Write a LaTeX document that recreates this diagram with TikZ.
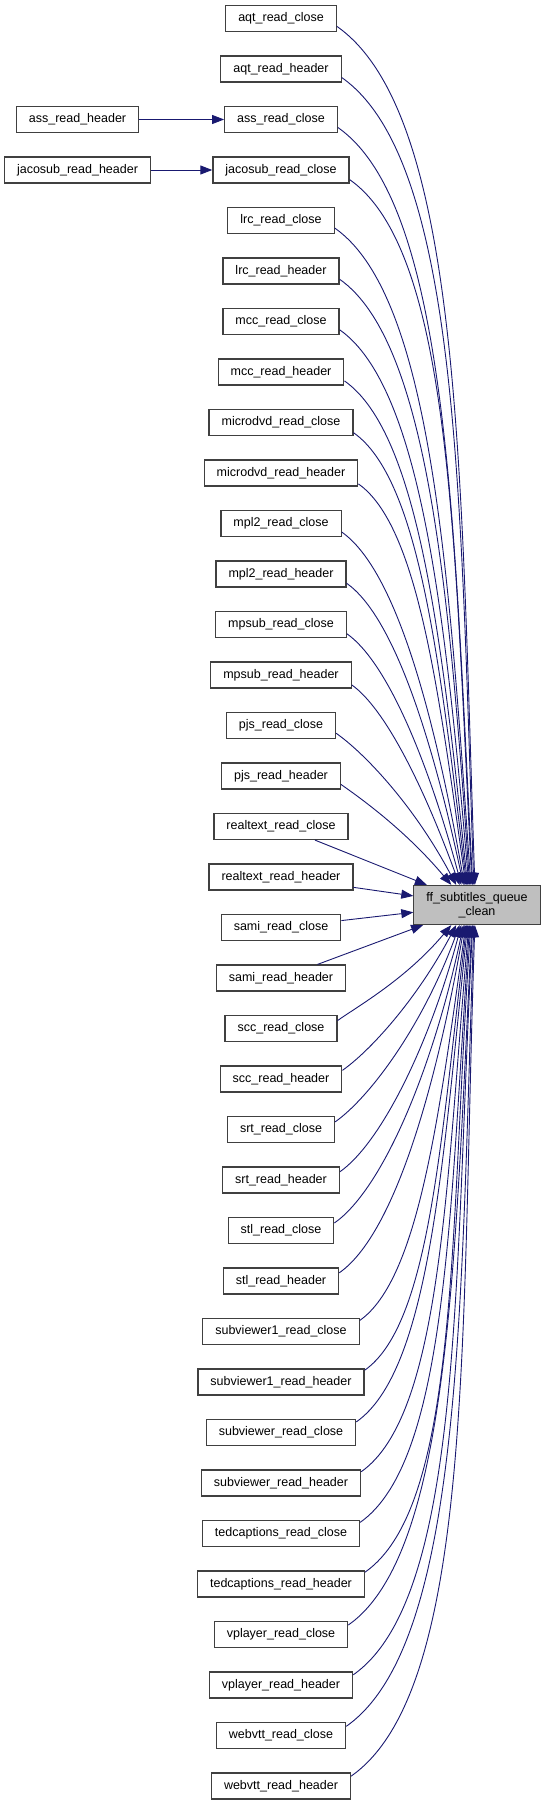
\documentclass[tikz,border=0pt]{standalone}
\usepackage{fontspec}
\setmainfont{Liberation Sans}
\usetikzlibrary{arrows.meta}
\definecolor{callblue}{HTML}{191970}
\definecolor{boxline}{HTML}{404040}
\definecolor{hilite}{HTML}{BFBFBF}

\begin{document}
\begin{tikzpicture}[
  node distance=50.5pt,
  box/.style={draw=boxline, line width=1.2pt, fill=white, inner xsep=12.5pt, inner ysep=0pt, minimum height=26pt, font=\fontsize{12.5}{14}\selectfont},
  target/.style={box, fill=hilite, align=center, minimum height=39pt},
  arrow/.style={-{Triangle[length=12pt,width=9pt]}, draw=callblue, line width=0.9pt},
  curve/.style={arrow, out looseness=0.45, in looseness=1.2}
]
\useasboundingbox (0,0) rectangle (545pt,-1811pt);

% callers, one column
\node[box] (aqtclose) at (281pt,-18.5pt) {aqt\_read\_close};
\node[box, below of=aqtclose] (aqtheader) {aqt\_read\_header};
\node[box, below of=aqtheader] (assclose) {ass\_read\_close};
\node[box, below of=assclose] (jacoclose) {jacosub\_read\_close};
\node[box, below of=jacoclose] (lrcclose) {lrc\_read\_close};
\node[box, below of=lrcclose] (lrcheader) {lrc\_read\_header};
\node[box, below of=lrcheader] (mccclose) {mcc\_read\_close};
\node[box, below of=mccclose] (mccheader) {mcc\_read\_header};
\node[box, below of=mccheader] (mdvdclose) {microdvd\_read\_close};
\node[box, below of=mdvdclose] (mdvdheader) {microdvd\_read\_header};
\node[box, below of=mdvdheader] (mpltclose) {mpl2\_read\_close};
\node[box, below of=mpltclose] (mpltheader) {mpl2\_read\_header};
\node[box, below of=mpltheader] (mpsubclose) {mpsub\_read\_close};
\node[box, below of=mpsubclose] (mpsubheader) {mpsub\_read\_header};
\node[box, below of=mpsubheader] (pjsclose) {pjs\_read\_close};
\node[box, below of=pjsclose] (pjsheader) {pjs\_read\_header};
\node[box, below of=pjsheader] (rtclose) {realtext\_read\_close};
\node[box, below of=rtclose] (rtheader) {realtext\_read\_header};
\node[box, below of=rtheader] (samiclose) {sami\_read\_close};
\node[box, below of=samiclose] (samiheader) {sami\_read\_header};
\node[box, below of=samiheader] (sccclose) {scc\_read\_close};
\node[box, below of=sccclose] (sccheader) {scc\_read\_header};
\node[box, below of=sccheader] (srtclose) {srt\_read\_close};
\node[box, below of=srtclose] (srtheader) {srt\_read\_header};
\node[box, below of=srtheader] (stlclose) {stl\_read\_close};
\node[box, below of=stlclose] (stlheader) {stl\_read\_header};
\node[box, below of=stlheader] (svoneclose) {subviewer1\_read\_close};
\node[box, below of=svoneclose] (svoneheader) {subviewer1\_read\_header};
\node[box, below of=svoneheader] (svclose) {subviewer\_read\_close};
\node[box, below of=svclose] (svheader) {subviewer\_read\_header};
\node[box, below of=svheader] (tedclose) {tedcaptions\_read\_close};
\node[box, below of=tedclose] (tedheader) {tedcaptions\_read\_header};
\node[box, below of=tedheader] (vpclose) {vplayer\_read\_close};
\node[box, below of=vpclose] (vpheader) {vplayer\_read\_header};
\node[box, below of=vpheader] (vttclose) {webvtt\_read\_close};
\node[box, below of=vttclose] (vttheader) {webvtt\_read\_header};

% second-level callers
\node[box, left of=assclose, node distance=203.5pt] (assheader) {ass\_read\_header};
\node[box, left of=jacoclose, node distance=203.5pt] (jacoheader) {jacosub\_read\_header};

\node[target] (ff) at (477pt,-905pt) {ff\_subtitles\_queue\\\_clean};

\draw[arrow] (assheader) -- (assclose);
\draw[arrow] (jacoheader) -- (jacoclose);

% upper half
\draw[curve] (aqtclose.-8) to[out=-35, in=92] (ff.96);
\draw[curve] (aqtheader.-8) to[out=-35, in=92] (ff.99);
\draw[curve] (assclose.-8) to[out=-35, in=93] (ff.102);
\draw[curve] (jacoclose.-8) to[out=-35, in=93] (ff.104);
\draw[curve] (lrcclose.-8) to[out=-35, in=94] (ff.107);
\draw[curve] (lrcheader.-8) to[out=-35, in=94] (ff.110);
\draw[curve] (mccclose.-8) to[out=-35, in=95] (ff.112);
\draw[curve] (mccheader.-8) to[out=-35, in=96] (ff.115);
\draw[curve] (mdvdclose.-8) to[out=-35, in=97] (ff.117);
\draw[curve] (mdvdheader.-8) to[out=-35, in=98] (ff.119);
\draw[curve] (mpltclose.-8) to[out=-35, in=100] (ff.122);
\draw[curve] (mpltheader.-8) to[out=-35, in=102] (ff.124);
\draw[curve] (mpsubclose.-8) to[out=-35, in=105] (ff.128);
\draw[curve] (mpsubheader.-8) to[out=-35, in=110] (ff.131);
\draw[curve] (pjsclose.-8) to[out=-35, in=118] (ff.136);
\draw[curve] (pjsheader.-8) to[out=-35, in=130] (ff.142);

% middle, straight
\draw[arrow] (rtclose) -- (ff);
\draw[arrow] (rtheader) -- (ff);
\draw[arrow] (samiclose) -- (ff);
\draw[arrow] (samiheader) -- (ff);

% lower half
\draw[curve] (sccclose.8) to[out=35, in=-130] (ff.-142);
\draw[curve] (sccheader.8) to[out=35, in=-118] (ff.-136);
\draw[curve] (srtclose.8) to[out=35, in=-110] (ff.-131);
\draw[curve] (srtheader.8) to[out=35, in=-105] (ff.-128);
\draw[curve] (stlclose.8) to[out=35, in=-102] (ff.-124);
\draw[curve] (stlheader.8) to[out=35, in=-100] (ff.-122);
\draw[curve] (svoneclose.8) to[out=35, in=-98] (ff.-119);
\draw[curve] (svoneheader.8) to[out=35, in=-97] (ff.-117);
\draw[curve] (svclose.8) to[out=35, in=-96] (ff.-115);
\draw[curve] (svheader.8) to[out=35, in=-95] (ff.-112);
\draw[curve] (tedclose.8) to[out=35, in=-94] (ff.-110);
\draw[curve] (tedheader.8) to[out=35, in=-94] (ff.-107);
\draw[curve] (vpclose.8) to[out=35, in=-93] (ff.-104);
\draw[curve] (vpheader.8) to[out=35, in=-93] (ff.-102);
\draw[curve] (vttclose.8) to[out=35, in=-92] (ff.-99);
\draw[curve] (vttheader.8) to[out=35, in=-92] (ff.-96);
\end{tikzpicture}
\end{document}
